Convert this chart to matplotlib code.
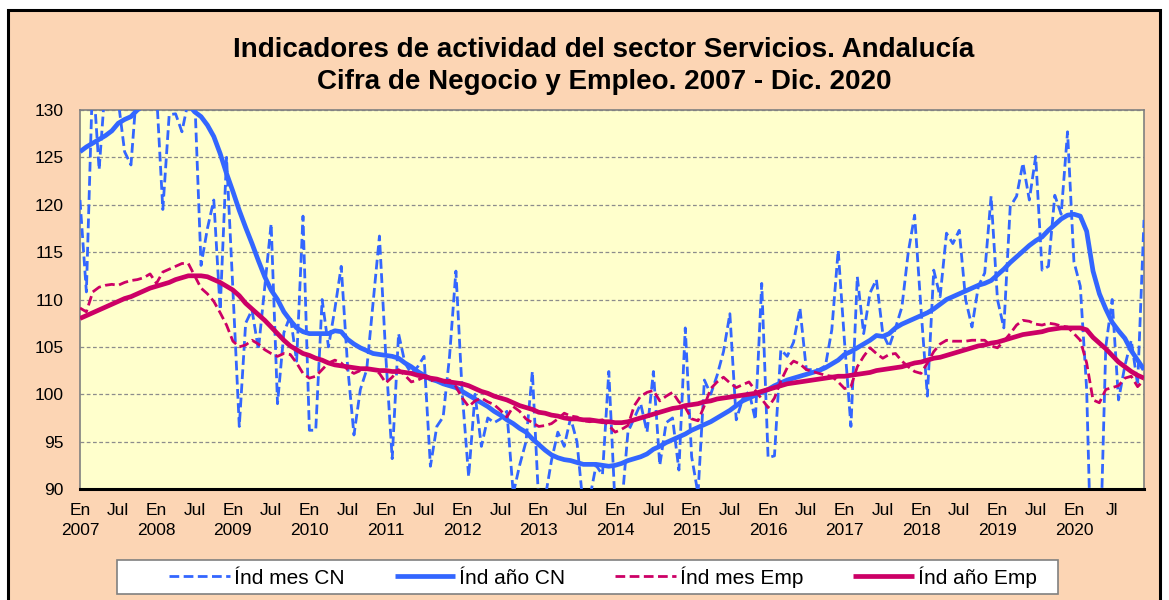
import numpy as np
import matplotlib
matplotlib.use('Agg')
import matplotlib.pyplot as plt
from matplotlib.patches import Rectangle

# ---------------- data (monthly, Jan 2007 - Dec 2020) ----------------
years = list(range(2007, 2021))

ind_mes_cn = [
    120.5, 110.8, 134.0, 123.7, 133.0, 133.5, 131.0, 125.6, 124.2, 133.0, 134.0, 135.0,   # 2007
    132.0, 119.5, 129.5, 129.6, 127.7, 131.0, 131.5, 113.6, 117.5, 120.5, 108.9, 125.0,   # 2008
    111.0, 96.6, 107.5, 108.9, 104.7, 111.4, 118.0, 99.0, 106.5, 108.3, 103.5, 118.8,     # 2009
    96.2, 96.2, 110.0, 105.0, 109.0, 113.5, 103.0, 95.7, 100.5, 102.6, 109.6, 116.7,      # 2010
    104.0, 93.2, 106.4, 103.3, 102.2, 102.9, 104.0, 92.4, 96.6, 97.6, 104.0, 113.0,       # 2011
    100.0, 91.3, 100.0, 94.5, 97.5, 97.0, 97.4, 98.2, 89.5, 92.5, 95.0, 102.4,            # 2012
    88.5, 89.0, 93.0, 96.0, 94.5, 97.5, 95.0, 88.0, 89.0, 92.5, 91.5, 102.4,              # 2013
    88.0, 88.0, 96.0, 97.5, 99.0, 96.0, 102.4, 92.5, 97.0, 97.5, 92.0, 107.0,             # 2014
    93.4, 89.5, 101.5, 100.0, 102.0, 104.5, 108.5, 97.3, 99.5, 100.3, 97.3, 111.7,        # 2015
    93.3, 93.5, 104.7, 104.0, 105.5, 109.1, 102.6, 102.6, 102.6, 103.0, 106.8, 115.2,     # 2016
    105.5, 96.6, 112.4, 106.4, 110.7, 112.1, 106.4, 105.0, 107.0, 109.2, 115.0, 118.9,    # 2017
    109.0, 99.8, 113.1, 110.3, 117.0, 115.9, 117.3, 110.0, 107.1, 111.4, 112.8, 120.9,    # 2018
    110.0, 107.0, 119.8, 120.9, 124.4, 120.5, 125.1, 113.1, 113.5, 121.0, 119.0, 127.7,   # 2019
    114.0, 111.4, 100.5, 75.0, 80.0, 105.0, 110.0, 99.4, 103.0, 105.7, 101.0, 118.4,      # 2020
]

ind_anio_cn = [
    125.6, 126.1, 126.5, 126.9, 127.3, 127.8, 128.6, 129.0, 129.3, 130.0, 130.5, 131.0,
    131.5, 131.8, 132.0, 131.8, 131.3, 130.6, 129.8, 129.3, 128.4, 127.2, 125.4, 123.3,
    121.4, 119.4, 117.6, 115.9, 114.1, 112.4, 111.0, 110.0, 108.7, 107.8, 107.0, 106.6,
    106.4, 106.4, 106.4, 106.4, 106.7, 106.6, 105.8, 105.3, 104.9, 104.6, 104.3, 104.2,
    104.1, 104.0, 103.8, 103.3, 102.9, 102.4, 102.0, 101.6, 101.4, 101.1, 100.9, 100.7,
    100.3, 99.9, 99.5, 99.1, 98.7, 98.2, 97.8, 97.3, 96.9, 96.4, 96.0, 95.3,
    94.7, 94.1, 93.6, 93.3, 93.1, 93.0, 92.8, 92.6, 92.6, 92.6, 92.5, 92.4,
    92.5, 92.7, 93.0, 93.2, 93.4, 93.7, 94.2, 94.5, 94.9, 95.2, 95.5, 95.8,
    96.2, 96.5, 96.8, 97.1, 97.5, 97.9, 98.3, 98.8, 99.3, 99.6, 99.9, 100.2,
    100.5, 100.9, 101.2, 101.5, 101.7, 101.9, 102.1, 102.3, 102.5, 102.8, 103.2, 103.6,
    104.2, 104.5, 104.9, 105.3, 105.7, 106.2, 106.1, 106.4, 107.0, 107.4, 107.7, 108.0,
    108.3, 108.6, 109.0, 109.5, 110.0, 110.3, 110.6, 110.9, 111.2, 111.5, 111.7, 112.0,
    112.6, 113.2, 113.9, 114.5, 115.1, 115.7, 116.2, 116.6, 117.3, 117.9, 118.5, 118.9,
    119.0, 118.8, 117.2, 113.0, 110.6, 109.0, 107.6, 106.7, 105.9, 104.6, 103.6, 102.6,
]

ind_mes_emp = [
    109.1, 108.7, 110.8, 111.3, 111.5, 111.6, 111.5, 111.8, 112.0, 112.1, 112.3, 112.7,
    111.7, 112.9, 113.2, 113.5, 113.8, 113.8, 112.5, 111.2, 110.6, 109.8, 108.6, 107.3,
    105.6, 105.0, 105.2, 105.7, 105.3, 104.7, 104.3, 104.0, 104.3, 104.2, 103.3, 102.2,
    101.7, 101.9, 102.6, 103.3, 103.6, 103.3, 102.6, 102.2, 102.5, 102.6, 102.6, 102.2,
    101.2, 101.8, 102.6, 102.0, 101.3, 101.5, 101.8, 101.4, 101.6, 101.2, 101.5, 100.8,
    99.6, 98.7, 99.3, 99.6, 99.2, 98.9, 98.3, 97.6, 98.7, 98.2, 97.4, 97.0,
    96.6, 96.7, 96.9, 97.4, 98.0, 97.7, 97.6, 97.2, 97.1, 97.2, 97.3, 96.7,
    96.0, 96.3, 96.7, 98.8, 99.8, 100.2, 100.4, 99.3, 99.8, 100.2, 99.2, 98.6,
    97.4, 97.2, 98.8, 100.6, 101.3, 101.8, 101.2, 100.7, 101.0, 101.3, 100.4, 99.5,
    98.6, 99.6, 101.4, 102.8, 103.5, 103.2, 102.6, 102.4, 102.2, 102.0, 101.9, 101.3,
    100.6, 100.8, 102.9, 104.0, 104.9, 104.3, 103.8, 104.2, 104.3, 103.5, 102.9, 102.4,
    102.2, 103.3, 104.5, 105.3, 105.7, 105.6, 105.6, 105.6, 105.7, 105.7, 105.7, 105.1,
    104.9, 105.6, 106.4, 107.3, 107.8, 107.7, 107.4, 107.3, 107.5, 107.4, 107.2, 107.1,
    106.4, 105.7, 103.3, 99.4, 99.1, 100.5, 100.7, 100.9, 101.7, 101.9, 100.8, 101.5,
]

ind_anio_emp = [
    108.0, 108.3, 108.6, 108.9, 109.2, 109.5, 109.8, 110.1, 110.3, 110.6, 110.9, 111.2,
    111.4, 111.6, 111.8, 112.1, 112.3, 112.5, 112.5, 112.5, 112.4, 112.1, 111.8, 111.4,
    111.0, 110.4, 109.6, 109.0, 108.4, 107.8, 107.1, 106.4, 105.7, 105.1, 104.7, 104.3,
    104.1, 103.8, 103.6, 103.3, 103.1, 103.0, 102.9, 102.8, 102.7, 102.7, 102.6, 102.5,
    102.5, 102.4, 102.4, 102.3, 102.2, 102.0, 101.9, 101.7, 101.6, 101.4, 101.3, 101.2,
    101.1, 100.9, 100.6, 100.3, 100.1, 99.8, 99.6, 99.4, 99.1, 98.8, 98.6, 98.4,
    98.1, 98.0, 97.8, 97.7, 97.5, 97.4, 97.4, 97.3, 97.3, 97.2, 97.1, 97.1,
    97.0, 97.0, 97.1, 97.3, 97.5, 97.7, 97.9, 98.1, 98.3, 98.5, 98.6, 98.8,
    98.9, 99.0, 99.2, 99.3, 99.5, 99.6, 99.7, 99.8, 99.9, 100.0, 100.1, 100.3,
    100.5, 100.7, 100.9, 101.1, 101.2, 101.3, 101.4, 101.5, 101.6, 101.7, 101.8, 101.9,
    101.9, 102.0, 102.1, 102.2, 102.3, 102.5, 102.6, 102.7, 102.8, 102.9, 103.1, 103.3,
    103.4, 103.6, 103.8, 103.9, 104.1, 104.3, 104.5, 104.7, 104.9, 105.1, 105.2, 105.4,
    105.5, 105.7, 105.9, 106.1, 106.3, 106.4, 106.5, 106.6, 106.8, 106.9, 107.0, 107.0,
    107.0, 107.0, 106.8, 106.0, 105.4, 104.8, 104.1, 103.4, 102.9, 102.4, 102.0, 101.7,
]

series_labels = ['Índ mes CN', 'Índ año CN', 'Índ mes Emp', 'Índ año Emp']
y_ticks = [90, 95, 100, 105, 110, 115, 120, 125, 130]
jan_label = 'En'
jul_labels = ['Jul'] * 13 + ['Jl']
title_lines = ['Indicadores de actividad del sector Servicios. Andalucía',
               'Cifra de Negocio y Empleo. 2007 - Dic. 2020']

# ---------------- style ----------------
BLUE = '#3366FF'
MAG = '#CC0066'
PEACH = '#FCD5B4'
PLOT_BG = '#FFFFCC'
GRID = '#8C8C8C'

plt.rcParams['font.family'] = ['Liberation Sans', 'DejaVu Sans']

W, H = 1169, 600
fig = plt.figure(figsize=(W / 100, H / 100), dpi=100, facecolor='white')

# outer chart frame
frame = Rectangle((8 / W, -0.02), 1152 / W, 1.02 - 10 / H,
                  transform=fig.transFigure, facecolor=PEACH,
                  edgecolor='black', linewidth=2.2, zorder=-10)
fig.patches.append(frame)

# legend box
legbox = Rectangle((117 / W, 1 - 594 / H), 941 / W, 34 / H,
                   transform=fig.transFigure, facecolor='white',
                   edgecolor='#808080', linewidth=1.2, zorder=-5)
fig.patches.append(legbox)

ax = fig.add_axes([80 / W, 1 - 489 / H, 1064 / W, 379 / H])
ax.set_zorder(2)
ax.set_facecolor(PLOT_BG)

x = np.arange(len(ind_mes_cn))

ax.plot(x, ind_mes_cn, color=BLUE, lw=2.0, dashes=(3.5, 1.6), label=series_labels[0], zorder=3)
ax.plot(x, ind_anio_cn, color=BLUE, lw=3.4, solid_capstyle='butt', label=series_labels[1], zorder=4)
ax.plot(x, ind_mes_emp, color=MAG, lw=2.0, dashes=(3.5, 1.6), label=series_labels[2], zorder=5)
ax.plot(x, ind_anio_emp, color=MAG, lw=3.4, solid_capstyle='butt', label=series_labels[3], zorder=6)

ax.set_xlim(0, len(x) - 1)
ax.set_ylim(y_ticks[0], y_ticks[-1])
ax.set_yticks(y_ticks)
ax.set_yticklabels([str(v) for v in y_ticks])

jan_pos = [12 * k for k in range(len(years))]
jul_pos = [12 * k + 6 for k in range(len(years))]
major_pos = sorted(jan_pos + jul_pos)
labels = {}
for k, yr in enumerate(years):
    labels[12 * k] = f'{jan_label}\n{yr}'
    labels[12 * k + 6] = jul_labels[k]
ax.set_xticks(major_pos)
ax.set_xticklabels([labels[p] for p in major_pos], linespacing=1.45)
ax.set_xticks(jan_pos, minor=True)

ax.tick_params(axis='both', which='both', length=0, labelsize=12.5, colors='black')
ax.tick_params(axis='x', which='major', pad=10)
ax.tick_params(axis='y', which='major', pad=12)

ax.grid(False)
ax.yaxis.grid(True, which='major', color=GRID, lw=0.9, dashes=(3, 2))
ax.xaxis.grid(True, which='minor', color=GRID, lw=0.9, dashes=(3, 2))
ax.set_axisbelow(True)

for side in ['top', 'right', 'left']:
    ax.spines[side].set_color('#808080')
    ax.spines[side].set_linewidth(1.2)
ax.spines['bottom'].set_color('black')
ax.spines['bottom'].set_linewidth(2.2)

# title
fig.text(604 / W, 1 - 50 / H, title_lines[0], ha='center', va='center',
         fontsize=20, fontweight='bold')
fig.text(604 / W, 1 - 82 / H, title_lines[1], ha='center', va='center',
         fontsize=20, fontweight='bold')

# legend (entries only; box drawn above)
handles, lbls = ax.get_legend_handles_labels()
leg = fig.legend(handles, lbls, loc='center', ncol=4,
                 bbox_to_anchor=(603 / W, 1 - 577 / H),
                 frameon=False, fontsize=15, handlelength=2.9,
                 handletextpad=0.2, columnspacing=2.4, borderaxespad=0)
leg.set_zorder(3)

fig.savefig('out.png', dpi=100, facecolor=fig.get_facecolor())
